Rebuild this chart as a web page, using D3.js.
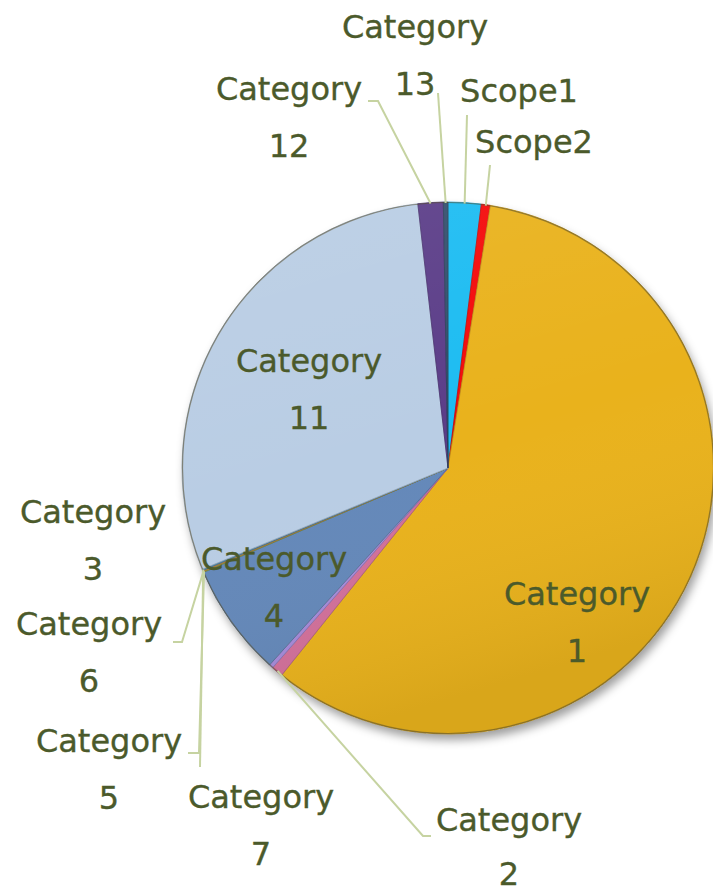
<!DOCTYPE html>
<html>
<head>
<meta charset="utf-8">
<script src="https://cdn.jsdelivr.net/npm/d3@7"></script>
<style>
  html, body { margin: 0; padding: 0; background: #fff; }
  svg { display: block; }
</style>
</head>
<body>
<svg id="chart" width="713" height="896"></svg>
<script>
// ---- data (clockwise from 12 o'clock), values in % ----
const categories = ["Scope1", "Scope2", "Category 1", "Category 2", "Category 3", "Category 4",
                    "Category 5", "Category 6", "Category 7", "Category 11", "Category 12", "Category 13"];
const values     = [2.0, 0.55, 58.2, 0.7, 0.25, 6.86, 0.06, 0.06, 0.08, 29.4, 1.53, 0.28];
const colors     = ["#1cbcf2", "#f40a0a", "#e9b21c", "#d2709a", "#a58ad8", "#6488b9",
                    "#8aa04a", "#d08a3a", "#4a8ab0", "#b9cde4", "#5b3d88", "#34506e"];

// ---- layout ----
const W = 713, H = 896;
const cx = 448, cy = 468, R = 266;
const lineH = 57;
// label anchors: [center x, first-line baseline]
const labelPos = {
  "Scope1": [519, 102], "Scope2": [534, 153],
  "Category 1": [577, 605], "Category 2": [509, 831], "Category 3": [93, 523],
  "Category 4": [274, 570], "Category 5": [109, 752], "Category 6": [89, 635],
  "Category 7": [261, 808], "Category 11": [309, 372], "Category 12": [289, 100],
  "Category 13": [415, 38]
};
const lineGap = { "Category 2": 54 };
// leader line label-side points
const leaderStart = {
  "Scope1": [[467, 115]], "Scope2": [[490, 165]],
  "Category 2": [[431, 836], [423, 836]],
  "Category 5": [[188, 753], [199, 753]],
  "Category 6": [[173, 642], [182, 642]],
  "Category 7": [[200, 767]],
  "Category 12": [[368, 101], [378, 101]],
  "Category 13": [[438, 93]]
};

const svg = d3.select("#chart");
const defs = svg.append("defs");

const f = defs.append("filter").attr("id", "shadow")
  .attr("x", "-20%").attr("y", "-20%").attr("width", "140%").attr("height", "140%");
f.append("feDropShadow").attr("dx", 3).attr("dy", 6).attr("stdDeviation", 5)
  .attr("flood-color", "#000").attr("flood-opacity", 0.38);

const g1 = defs.append("linearGradient").attr("id", "shade")
  .attr("x1", 0).attr("y1", 0).attr("x2", 0.3).attr("y2", 1);
g1.append("stop").attr("offset", "0%").attr("stop-color", "#fff").attr("stop-opacity", 0.08);
g1.append("stop").attr("offset", "55%").attr("stop-color", "#fff").attr("stop-opacity", 0);
g1.append("stop").attr("offset", "100%").attr("stop-color", "#000").attr("stop-opacity", 0.07);

const pie = d3.pie().sort(null).value(d => d.v).startAngle(0).endAngle(2 * Math.PI);
const data = categories.map((c, i) => ({ c, v: values[i], col: colors[i] }));
const arcs = pie(data);
const arc = d3.arc().innerRadius(0).outerRadius(R);

const g = svg.append("g").attr("transform", `translate(${cx},${cy})`);

g.append("circle").attr("r", R).attr("fill", "#ddd").attr("filter", "url(#shadow)");

g.selectAll("path.slice").data(arcs).join("path")
  .attr("class", "slice")
  .attr("d", arc)
  .attr("fill", d => d.data.col)
  .attr("stroke", d => d3.color(d.data.col).darker(0.6))
  .attr("stroke-width", 0.8);

g.append("circle").attr("r", R).attr("fill", "url(#shade)");
g.append("circle").attr("r", R - 0.5).attr("fill", "none")
  .attr("stroke", "#5a5030").attr("stroke-opacity", 0.55).attr("stroke-width", 1.2);

// leader lines
const line = d3.line();
arcs.forEach(a => {
  const pts = leaderStart[a.data.c];
  if (!pts) return;
  const mid = (a.startAngle + a.endAngle) / 2;
  const end = [cx + Math.sin(mid) * (R - 1), cy - Math.cos(mid) * (R - 1)];
  svg.append("path")
    .attr("d", line(pts.concat([end])))
    .attr("fill", "none")
    .attr("stroke", "#c6d3a1")
    .attr("stroke-width", 2);
});

// labels
const labels = svg.append("g")
  .attr("font-family", "'DejaVu Sans', Verdana, sans-serif")
  .attr("font-size", 32)
  .attr("fill", "#4b5a2b")
  .attr("stroke", "#4b5a2b")
  .attr("stroke-width", 0.35)
  .attr("text-anchor", "middle");

arcs.forEach(a => {
  const name = a.data.c;
  const p = labelPos[name];
  const gap = lineGap[name] || lineH;
  const parts = name.startsWith("Category") ? ["Category", name.split(" ")[1]] : [name];
  const t = labels.append("text").attr("x", p[0]).attr("y", p[1]);
  parts.forEach((s, i) => {
    t.append("tspan").attr("x", p[0]).attr("y", p[1] + i * gap).text(s);
  });
});
</script>
</body>
</html>
